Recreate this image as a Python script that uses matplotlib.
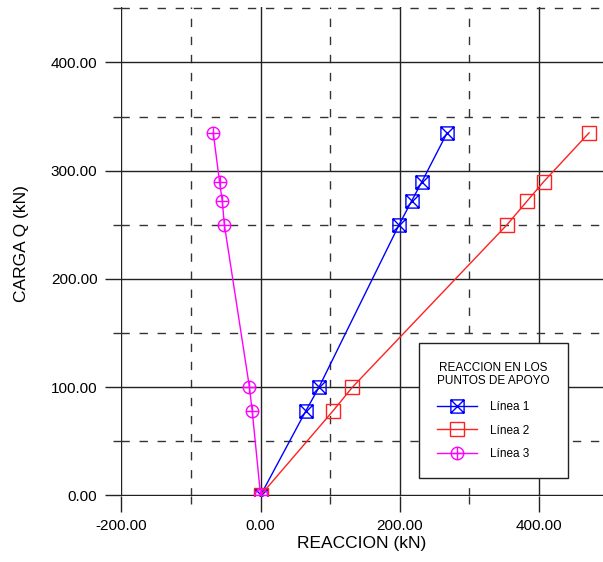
import matplotlib.pyplot as plt
import numpy as np
from matplotlib.path import Path
from matplotlib.ticker import MultipleLocator, FormatStrFormatter

plt.rcParams['font.family'] = ['Liberation Sans', 'DejaVu Sans']

# datos
carga = [0, 78, 100, 250, 272, 290, 335]          # CARGA Q (kN)
linea1 = [0, 65, 84, 199, 217, 232, 268]          # REACCION linea 1
linea2 = [0, 104, 132, 354, 383, 407, 472]        # REACCION linea 2
linea3 = [0, -12, -16, -52, -55, -59, -68]        # REACCION linea 3
nombres = ['Línea 1', 'Línea 2', 'Línea 3']
titulo_leyenda = 'REACCION EN LOS\nPUNTOS DE APOYO'

# marcadores: cuadrado con X, cuadrado, circulo con +
M, L, C = Path.MOVETO, Path.LINETO, Path.CLOSEPOLY
caja_x = Path([(-1, -1), (1, -1), (1, 1), (-1, 1), (-1, -1),
               (-1, -1), (1, 1), (-1, 1), (1, -1)],
              [M, L, L, L, C, M, L, M, L])
circ_mas = Path.make_compound_path(
    Path.unit_circle(),
    Path([(-1, 0), (1, 0)], [M, L]),
    Path([(0, -1), (0, 1)], [M, L]))

fig = plt.figure(figsize=(6.03, 5.62), dpi=100)
ax = fig.add_axes([0.2007, 0.118, 0.7993, 0.869])

ax.plot(linea1, carga, color='#0000ff', lw=1, marker=caja_x, ms=9.5,
        mfc='none', mec='#0000ff', mew=1, label=nombres[0])
ax.plot(linea2, carga, color='#ff2020', lw=1, marker='s', ms=9.5,
        mfc='none', mec='#ff2020', mew=1, label=nombres[1])
ax.plot(linea3, carga, color='#ff00ff', lw=1, marker=circ_mas, ms=9,
        mfc='none', mec='#ff00ff', mew=1, label=nombres[2])

ax.set_xlim(-200.5, 492)
ax.set_ylim(-0.3, 451)

ax.xaxis.set_major_locator(MultipleLocator(200))
ax.xaxis.set_minor_locator(MultipleLocator(100))
ax.yaxis.set_major_locator(MultipleLocator(100))
ax.yaxis.set_minor_locator(MultipleLocator(50))
ax.xaxis.set_major_formatter(FormatStrFormatter('%.2f'))
ax.yaxis.set_major_formatter(FormatStrFormatter('%.2f'))
ax.set_yticks([0, 100, 200, 300, 400])

ax.grid(which='major', color='#222222', lw=1, ls='-')
ax.grid(which='minor', color='#333333', lw=1, ls=(0, (6, 7)))
ax.set_axisbelow(True)
for s in ax.spines.values():
    s.set_visible(False)

ax.tick_params(which='major', length=11.5, width=1, color='#222222',
               labelsize=11, pad=5.5)
ax.tick_params(which='minor', length=5.8, width=1, color='#333333')

ax.set_xlabel('REACCION (kN)', fontsize=12.5)
ax.set_ylabel('CARGA Q (kN)', fontsize=12.5)
ax.xaxis.set_label_coords(0.5, -0.097)
ax.yaxis.label.set_va('center')
ax.xaxis.label.set_va('center')
ax.yaxis.set_label_coords(-0.207, 0.517)

leg = ax.legend(loc='lower left', bbox_to_anchor=(0.618, 0.036),
                borderaxespad=0, title=titulo_leyenda, fontsize=8.5,
                title_fontsize=8.5, fancybox=False, framealpha=1,
                edgecolor='#222222', handlelength=3.4, handletextpad=1.1,
                borderpad=1.55, labelspacing=0.95)
leg.get_frame().set_linewidth(1)
leg.get_title().set_multialignment('center')
leg._legend_box.sep = 10
leg._legend_box.align = 'left'

fig.savefig('out.png', dpi=100)
